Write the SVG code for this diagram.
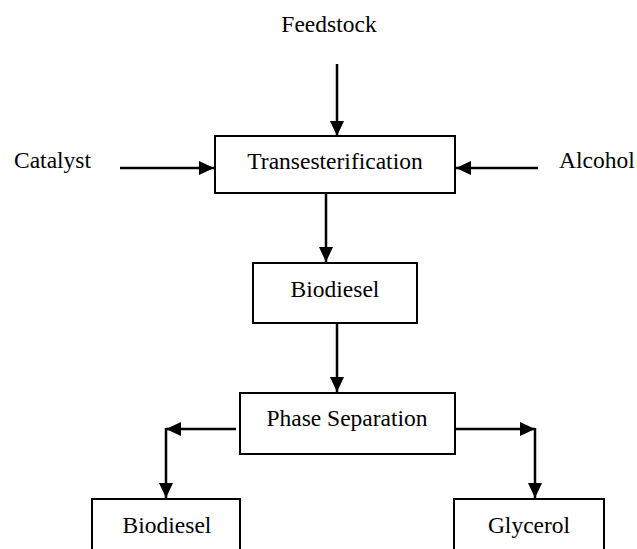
<svg xmlns="http://www.w3.org/2000/svg" width="637" height="549" viewBox="0 0 637 549">
<style>
.box{fill:#fff;stroke:#000;stroke-width:2}
.lbl{font-family:"Liberation Serif","Times New Roman",serif;font-size:23.5px;fill:#000}
.c{text-anchor:middle}
.conn{fill:none;stroke:#000;stroke-width:2.5}
</style>
<defs>
<marker id="ah" markerUnits="userSpaceOnUse" markerWidth="16" markerHeight="14" refX="15" refY="7" orient="auto">
<path d="M0,0 L15,7 L0,14 z" fill="#000"/>
</marker>
</defs>
<g id="connectors">
<line class="conn" x1="337" y1="64" x2="337" y2="136" marker-end="url(#ah)"/>
<line class="conn" x1="120" y1="168" x2="214" y2="168" marker-end="url(#ah)"/>
<line class="conn" x1="538" y1="168" x2="456" y2="168" marker-end="url(#ah)"/>
<line class="conn" x1="326" y1="193" x2="326" y2="262" marker-end="url(#ah)"/>
<line class="conn" x1="337" y1="323" x2="337" y2="392" marker-end="url(#ah)"/>
<polyline class="conn" points="236,429 166,429" marker-end="url(#ah)"/>
<line class="conn" x1="166" y1="428" x2="166" y2="498" marker-end="url(#ah)"/>
<polyline class="conn" points="455,429 535,429" marker-end="url(#ah)"/>
<line class="conn" x1="535" y1="428" x2="535" y2="498" marker-end="url(#ah)"/>
</g>
<g id="feedstock"><text class="lbl c" x="329" y="32">Feedstock</text></g>
<g id="catalyst"><text class="lbl" x="14" y="168">Catalyst</text></g>
<g id="alcohol"><text class="lbl" x="559" y="168">Alcohol</text></g>
<g id="transesterification">
<rect class="box" x="215" y="136" width="240" height="57"/>
<text class="lbl c" x="335" y="169">Transesterification</text>
</g>
<g id="biodiesel1">
<rect class="box" x="253" y="263" width="164" height="60"/>
<text class="lbl c" x="335" y="297">Biodiesel</text>
</g>
<g id="phase-separation">
<rect class="box" x="240" y="393" width="215" height="61"/>
<text class="lbl c" x="347" y="426">Phase Separation</text>
</g>
<g id="biodiesel2">
<rect class="box" x="92" y="499" width="148" height="60"/>
<text class="lbl c" x="167" y="533">Biodiesel</text>
</g>
<g id="glycerol">
<rect class="box" x="454" y="499" width="150" height="60"/>
<text class="lbl c" x="529" y="533">Glycerol</text>
</g>
</svg>
